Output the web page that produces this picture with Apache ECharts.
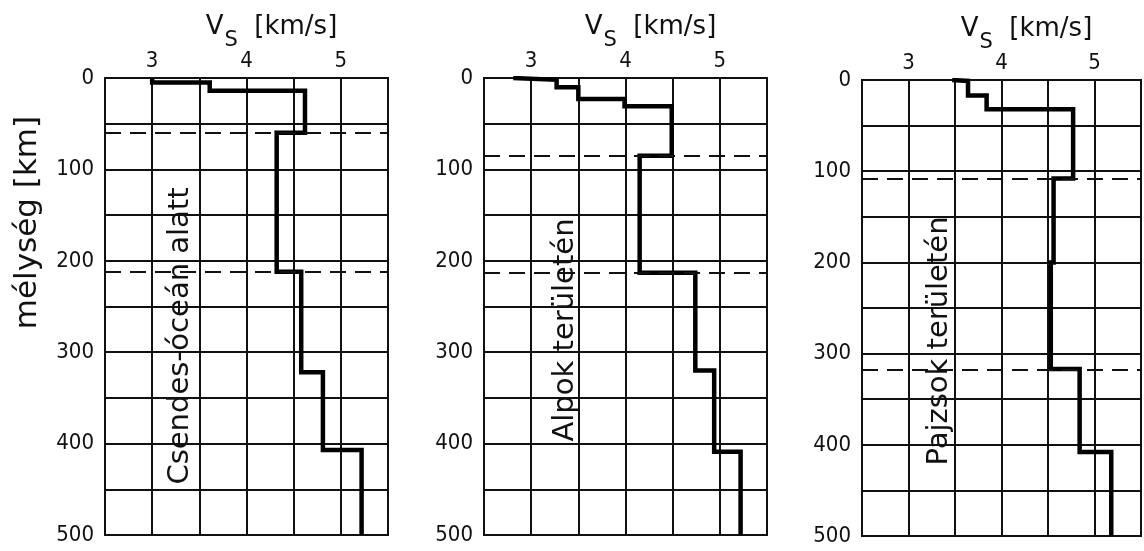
<!DOCTYPE html>
<html>
<head>
<meta charset="utf-8">
<script src="https://cdn.jsdelivr.net/npm/echarts@6/dist/echarts.min.js"></script>
<style>
  html, body { margin: 0; padding: 0; background: #fff; }
  #chart { width: 1144px; height: 551px; }
</style>
</head>
<body>
<div id="chart"></div>
<script>
// tick labels
const vsTicks = [3, 4, 5];
const depthTicks = [0, 100, 200, 300, 400, 500];

// Csendes-óceán alatt
const pacificVs = [3.0, 3.61, 4.62, 4.32, 4.58, 4.81, 5.22];
const pacificDepth = [0, 5, 14, 60, 212, 322, 407, 500];
const pacificDashed = [60, 212];

// Alpok területén
const alpsVs = [2.81, 3.27, 3.50, 3.99, 4.49, 4.15, 4.74, 4.94, 5.22];
const alpsDepth = [0, 2, 10, 23, 31, 85, 213, 320, 409, 500];
const alpsDashed = [85, 213];

// Pajzsok területén
const shieldVs = [3.47, 3.64, 3.84, 4.77, 4.56, 4.53, 4.84, 5.18];
const shieldDepth = [0, 1, 17, 32, 108, 200, 317, 408, 500];
const shieldDashed = [108, 318];

const panelNames = ['Csendes-óceán alatt', 'Alpok területén', 'Pajzsok területén'];

const FONT = '"DejaVu Sans", "Liberation Sans", sans-serif';
const NUMFONT = '"DejaVu Sans Condensed", "DejaVu Sans", sans-serif';
const INK = '#111';

function profile(vs, depth) {
    let pts = [];
    vs.forEach((v, i) => {
        pts.push([v, depth[i]]);
        pts.push([v, depth[i + 1]]);
    });
    return pts;
}

let myChart = echarts.init(document.getElementById('chart'));

const grids = [
    { left: 105, top: 78, width: 283, height: 457 },
    { left: 484, top: 78, width: 283, height: 457 },
    { left: 862, top: 80, width: 280, height: 456 },
];
const profiles = [
    [pacificVs, pacificDepth, pacificDashed],
    [alpsVs, alpsDepth, alpsDashed],
    [shieldVs, shieldDepth, shieldDashed],
];
const labelPos = [[180, 336], [565, 330], [939, 341]];

let option = {
    animation: false,
    backgroundColor: '#fff',
    grid: grids.map(g => Object.assign({ show: true, borderColor: INK, borderWidth: 2, backgroundColor: 'transparent' }, g)),
    xAxis: grids.map((g, i) => ({
        gridIndex: i,
        type: 'value',
        position: 'top',
        min: 2.5,
        max: 5.5,
        interval: 0.5,
        axisLine: { show: true, lineStyle: { color: INK, width: 2 } },
        axisTick: { show: false },
        axisLabel: {
            margin: 6,
            fontSize: 22,
            color: INK,
            fontFamily: NUMFONT,
            formatter: v => vsTicks.includes(v) ? String(v) : ''
        },
        splitLine: { show: true, lineStyle: { color: INK, width: 2 } },
        name: '{v|V}{s|S}{u|  [km/s]}',
        nameLocation: 'middle',
        nameMoveOverlap: false,
        nameGap: 24,
        nameTextStyle: {
            padding: [0, 0, 0, 50],
            rich: {
                v: { fontSize: 26, color: INK, fontFamily: FONT, padding: [0, 0, 14, 0] },
                s: { fontSize: 21, color: INK, fontFamily: FONT, padding: [14, 0, 0, 1] },
                u: { fontSize: 26, color: INK, fontFamily: FONT, padding: [0, 0, 14, 0] }
            }
        }
    })),
    yAxis: grids.map((g, i) => ({
        gridIndex: i,
        type: 'value',
        inverse: true,
        min: 0,
        max: 500,
        interval: 50,
        axisLine: { show: true, lineStyle: { color: INK, width: 2 } },
        axisTick: { show: false },
        axisLabel: {
            margin: 11,
            fontSize: 22,
            color: INK,
            fontFamily: NUMFONT,
            formatter: v => depthTicks.includes(v) ? String(v) : ''
        },
        splitLine: { show: true, lineStyle: { color: INK, width: 2 } },
        name: i === 0 ? 'mélység [km]' : '',
        nameLocation: 'middle',
        nameRotate: 90,
        nameGap: 62,
        nameTextStyle: {
            fontSize: 31,
            color: INK,
            fontFamily: FONT,
            padding: [0, 0, 0, 168]
        }
    })),
    series: profiles.map((p, i) => ({
        type: 'line',
        xAxisIndex: i,
        yAxisIndex: i,
        data: profile(p[0], p[1]),
        symbol: 'none',
        lineStyle: { color: '#000', width: 4.5, join: 'miter' },
        markLine: {
            silent: true,
            symbol: 'none',
            label: { show: false },
            lineStyle: { color: INK, width: 2.2, type: [16, 9] },
            data: p[2].map(d => ({ yAxis: d }))
        }
    })),
    graphic: panelNames.map((t, i) => ({
        type: 'text',
        x: labelPos[i][0],
        y: labelPos[i][1],
        rotation: Math.PI / 2,
        z: 100,
        style: {
            text: t,
            fontSize: 29,
            fontFamily: FONT,
            fill: INK,
            align: 'center',
            verticalAlign: 'middle'
        }
    }))
};

myChart.setOption(option, true);
window.addEventListener('resize', function() {
    myChart.resize();
});
</script>
</body>
</html>
